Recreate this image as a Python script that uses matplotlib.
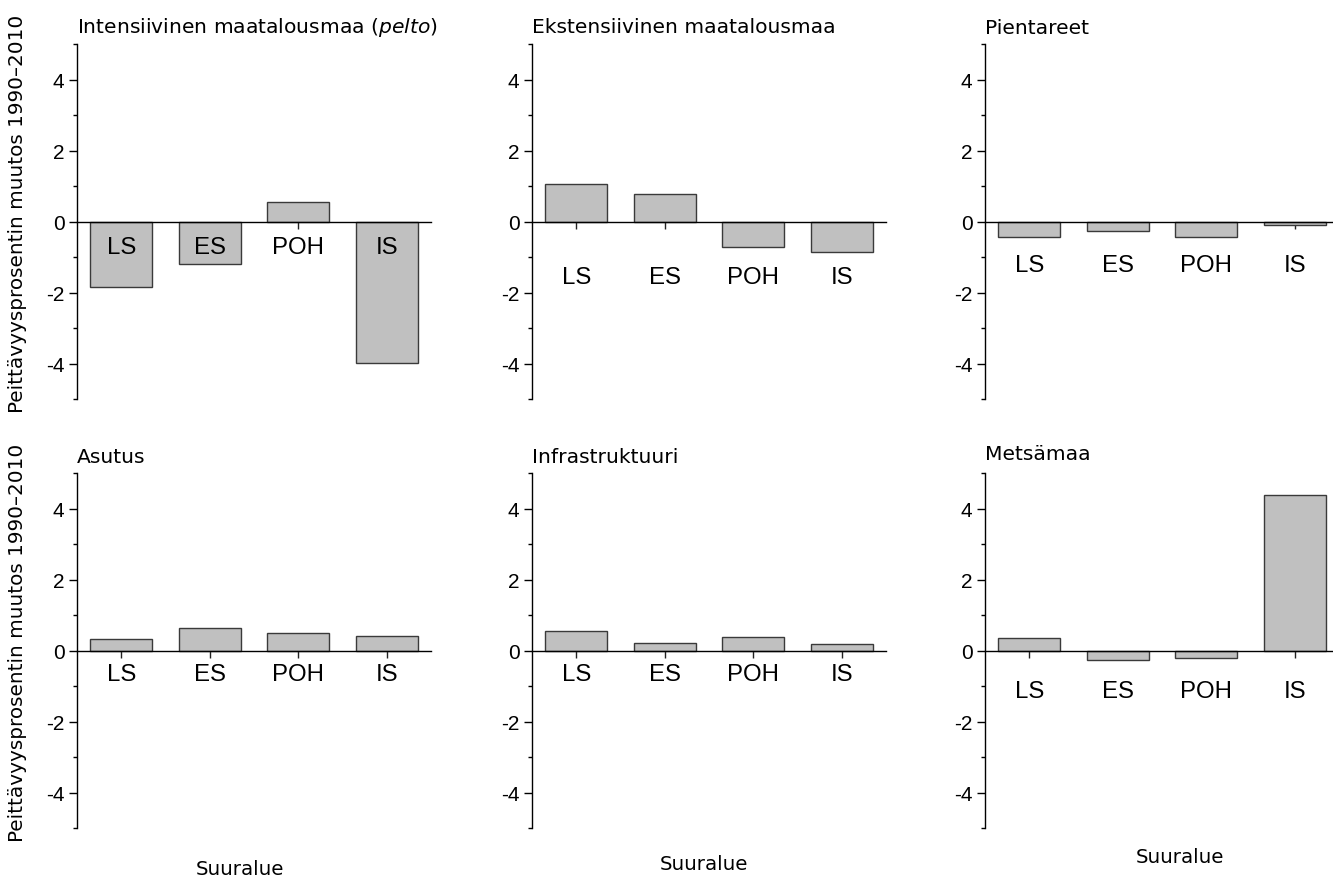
import matplotlib
matplotlib.use("Agg")
import matplotlib.pyplot as plt
from matplotlib.ticker import MultipleLocator

plt.rcParams["axes.unicode_minus"] = False
plt.rcParams["mathtext.fontset"] = "dejavusans"

# Regions and panel data (change in coverage percentage 1990–2010)
regions = ["LS", "ES", "POH", "IS"]
titles = [
    "Intensiivinen maatalousmaa ($\\mathit{pelto}$)",
    "Ekstensiivinen maatalousmaa",
    "Pientareet",
    "Asutus",
    "Infrastruktuuri",
    "Metsämaa",
]
intensive = [-1.85, -1.20, 0.56, -3.98]
extensive = [1.06, 0.77, -0.73, -0.86]
field_margins = [-0.45, -0.27, -0.45, -0.10]
settlement = [0.32, 0.64, 0.48, 0.40]
infrastructure = [0.56, 0.20, 0.39, 0.17]
forest = [0.35, -0.28, -0.21, 4.39]
panel_values = [intensive, extensive, field_margins, settlement, infrastructure, forest]

# Category label offset below the zero line (points) for each panel
label_offsets = [18, 40, 31, 17, 17, 29]
# Title offset above the axes top (points) for each panel
title_offsets = [12.5, 12.5, 12, 12, 12, 14]

ylabel_text = "Peittävyysprosentin muutos 1990–2010"
xlabel_text = "Suuralue"

W, H = 1333, 879
fig = plt.figure(figsize=(W / 100, H / 100), dpi=100)

lefts = [77, 532, 985]
tops = [45, 474]
aw, ah = 354, 355

tick_font = "Liberation Sans"
text_font = "DejaVu Sans"

for i, vals in enumerate(panel_values):
    r, c = divmod(i, 3)
    ax = fig.add_axes([lefts[c] / W, 1 - (tops[r] + ah) / H, aw / W, ah / H])
    xs = list(range(1, len(regions) + 1))
    ax.bar(xs, vals, width=0.70, color="#c0c0c0", edgecolor="#3a3a3a",
           linewidth=1.0, zorder=2)
    ax.set_xlim(0.5, 4.5)
    ax.set_ylim(-5, 5)
    for s in ("top", "right"):
        ax.spines[s].set_visible(False)
    ax.spines["bottom"].set_position(("data", 0))
    ax.spines["bottom"].set_zorder(3)
    ax.spines["bottom"].set_linewidth(1.0)
    ax.spines["left"].set_linewidth(1.0)
    ax.set_xticks(xs)
    ax.set_xticklabels([])
    ax.tick_params(axis="x", direction="out", length=5, width=1.0, color="#222222")
    ax.yaxis.set_major_locator(MultipleLocator(2))
    ax.yaxis.set_minor_locator(MultipleLocator(1))
    ax.tick_params(axis="y", which="major", direction="out", length=6, width=1.0,
                   labelsize=15, pad=3)
    ax.tick_params(axis="y", which="minor", direction="out", length=3, width=1.0)
    for lab in ax.get_yticklabels():
        lab.set_fontfamily(tick_font)
    for x, name in zip(xs, regions):
        ax.annotate(name, xy=(x, 0), xytext=(0, -label_offsets[i]),
                    textcoords="offset points", ha="center", va="center",
                    fontsize=17.3, fontfamily=tick_font, zorder=4)
    ax.annotate(titles[i], xy=(0, 1), xycoords="axes fraction",
                xytext=(0, title_offsets[i]), textcoords="offset points",
                ha="left", va="center", fontsize=14.6, fontfamily=text_font)

# Shared axis labels
fig.text(18 / W, 1 - 214 / H, ylabel_text, rotation=90, ha="center", va="center",
         fontsize=14.4, fontfamily=text_font)
fig.text(18 / W, 1 - 643 / H, ylabel_text, rotation=90, ha="center", va="center",
         fontsize=14.4, fontfamily=text_font)
for x, y in [(240, 870), (704, 865), (1180, 858)]:
    fig.text(x / W, 1 - y / H, xlabel_text, ha="center", va="center",
             fontsize=14.3, fontfamily=text_font)

fig.savefig("out.png", dpi=100)
